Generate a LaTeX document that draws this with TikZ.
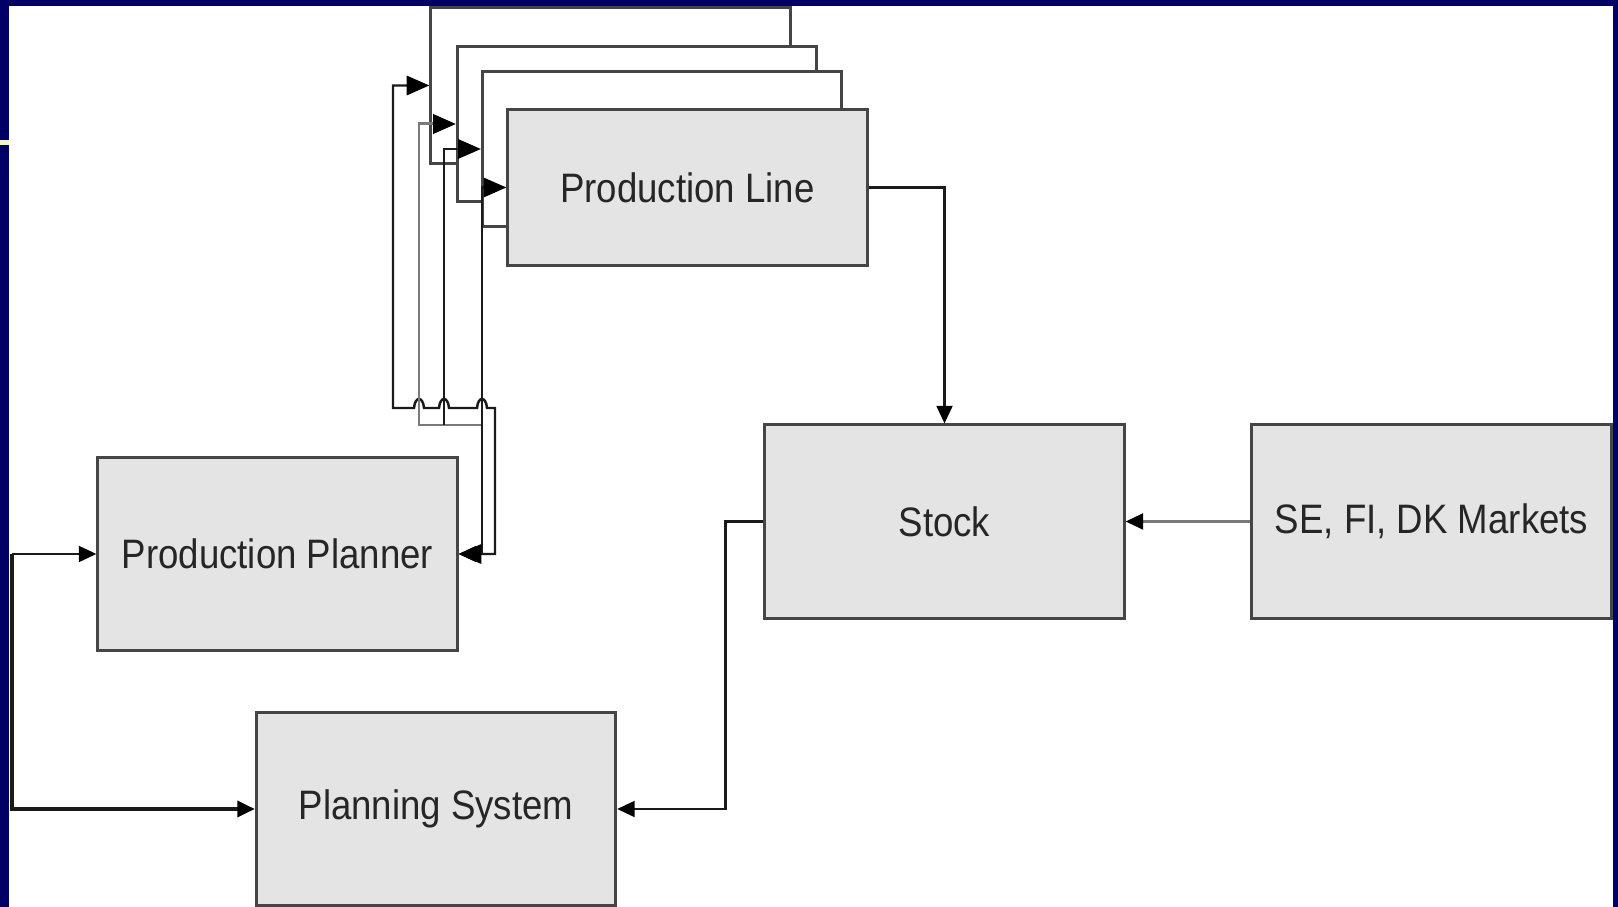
\documentclass[tikz,border=0pt]{standalone}
\usepackage{fontspec}
\setmainfont{Liberation Sans}[FakeStretch=0.89]
\usetikzlibrary{arrows.meta, positioning}
\definecolor{slidenavy}{HTML}{000066}
\definecolor{slidecream}{HTML}{F4F4CC}
\definecolor{boxfill}{HTML}{E4E4E4}
\definecolor{boxedge}{HTML}{454545}
\definecolor{wiredark}{HTML}{1A1A1A}
\definecolor{wiregray}{HTML}{7A7A7A}

\tikzset{
  block/.style={draw=boxedge, fill=boxfill, line width=0.85pt, minimum width=3.59cm, minimum height=1.93cm, text=black!85, font=\fontsize{11.7}{14}\selectfont},
  linebox/.style={block, minimum height=1.55cm},
  backbox/.style={linebox, fill=white},
  wire/.style={draw=wiredark, line width=0.7pt},
  graywire/.style={draw=wiregray, line width=0.85pt},
  bigtip/.tip={Triangle[length=6.5pt, width=5.5pt, color=black]},
  smalltip/.tip={Triangle[length=5pt, width=4.5pt, color=black]},
}

\begin{document}
\begin{tikzpicture}[x=0.01cm, y=-0.01cm]
  % Slide background and frame
  \useasboundingbox (0,0) rectangle (1618,907);
  \fill[white] (0,0) rectangle (1618,907);
  \fill[slidenavy] (0,0) rectangle (1618,6);
  \fill[slidenavy] (0,0) rectangle (9,907);
  \fill[slidenavy] (1613,0) rectangle (1618,907);
  \fill[slidecream] (0,140) rectangle (9,145);

  % Stacked production lines, back to front
  \foreach \n/\cx/\cy in {1/610.5/85.5, 2/637/124, 3/662/149} {
    \node[backbox] (line\n) at (\cx,\cy) {};
  }
  \node[linebox] (line) at (687.5,187.5) {Production Line};

  % Planning and stock blocks
  \node[block] (planner) at (277.5,554) {Production Planner};
  \node[block] (plansys) at (436,809) {Planning System};
  \node[block] (stock) at (944.5,521.5) {Stock};
  \node[block] (markets) at (1431.5,521.5) {SE, FI, DK Markets};

  % Planner to the lines (wire to the rearmost line hops the others)
  \coordinate (join) at (482,425);
  \draw[wire, {bigtip}-{smalltip}] (line1.west) -| (393,408)
    \foreach \h in {419,444,482} { -- (\h-5,408) .. controls (\h-4,396) and (\h+4,396) .. (\h+5,408) }
    -- (495,408) |- (planner.east);
  \draw[graywire, {bigtip}-] (line2.west) -| (419,425) -- (join);
  \draw[wire, {bigtip}-] (line3.west) -| (444,425);
  \draw[wire, {bigtip}-{bigtip}] (line.west) -| (join) |- (planner.east);

  % Output to stock, market demand, stock back to planning
  \draw[wire, -{smalltip}] (line.east) -| (stock.north);
  \draw[graywire, -{smalltip}] (markets.west) -- (stock.east);
  \draw[wire, -{smalltip}] (stock.west) -- ++(-38,0) |- (plansys.east);

  % Feed from the left edge
  \coordinate (feed) at (12,554);
  \draw[wire, -{smalltip}] (feed) -- (planner.west);
  \draw[wire, line width=1.1pt, -{smalltip}] (feed) |- (plansys.west);
\end{tikzpicture}
\end{document}
